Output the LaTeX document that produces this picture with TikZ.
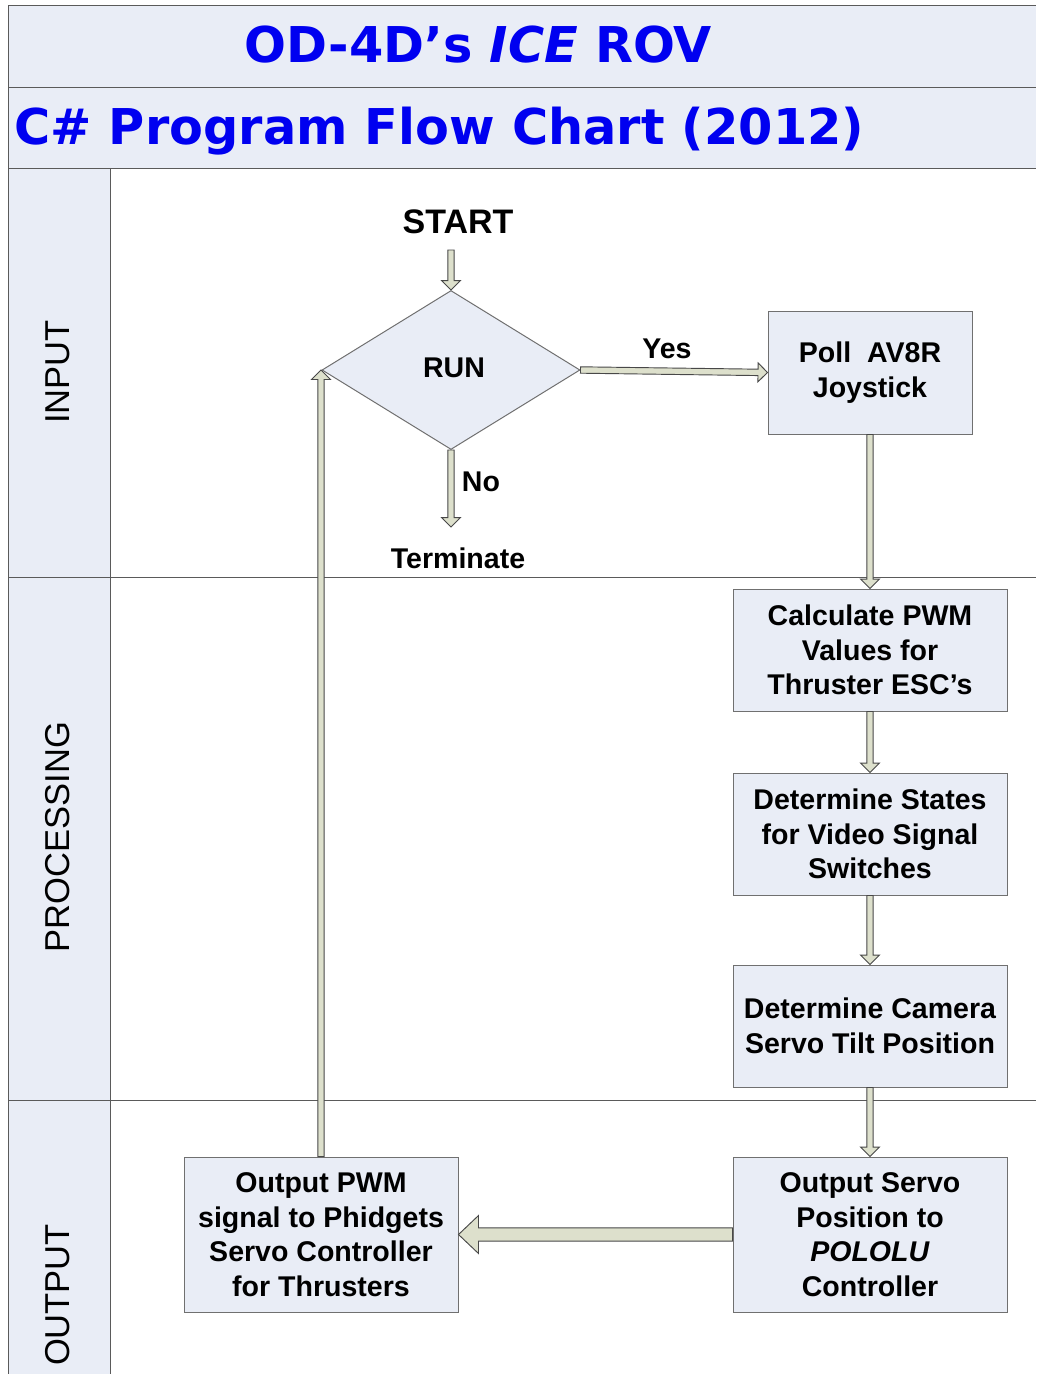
\documentclass[tikz,border=0pt]{standalone}
\usepackage{fontspec}
\setmainfont{Liberation Sans}
\newfontfamily\titlefont{DejaVu Sans}
\usetikzlibrary{calc,shapes.geometric}
\definecolor{paleblue}{HTML}{E9EDF6}
\definecolor{titleblue}{HTML}{0000F0}
\definecolor{arrowfill}{HTML}{DDE0CC}
\definecolor{arrowline}{HTML}{484848}
\definecolor{frameline}{HTML}{5A5A5A}
\definecolor{boxline}{HTML}{707070}
\tikzset{
  shafthalf/.store in=\shafthalf,
  headhalf/.store in=\headhalf,
  headlen/.store in=\headlen,
  shafthalf=2.4pt, headhalf=7.1pt, headlen=7.1pt,
  blockarrow/.style={draw=arrowline, fill=arrowfill, line width=0.7pt, line join=miter,
    to path={let \p1=($(\tikztotarget)!\headlen!(\tikztostart)$) in
      ($(\tikztostart)!\shafthalf!90:(\tikztotarget)$) --
      ($(\p1)!\shafthalf!90:(\tikztotarget)$) --
      ($(\p1)!\headhalf!90:(\tikztotarget)$) --
      (\tikztotarget) --
      ($(\p1)!\headhalf!-90:(\tikztotarget)$) --
      ($(\p1)!\shafthalf!-90:(\tikztotarget)$) --
      ($(\tikztostart)!\shafthalf!-90:(\tikztotarget)$) -- cycle}},
  bigarrow/.style={blockarrow, shafthalf=5pt, headhalf=14.25pt, headlen=15pt},
  bodytext/.style={font=\bfseries\fontsize{21.4}{25.9}\selectfont},
  procbox/.style={draw=boxline, fill=paleblue, line width=0.75pt, align=center,
    inner sep=0pt, minimum width=205.5pt, minimum height=91.5pt, bodytext},
  lanelabel/.style={rotate=90, font=\fontsize{25.9}{30}\selectfont, inner sep=0pt},
  titletext/.style={text=titleblue, font=\titlefont\bfseries\fontsize{37}{44}\selectfont, inner sep=0pt},
  frame/.style={draw=frameline, line width=0.75pt},
}
\begin{document}
\begin{tikzpicture}[x=0.75pt,y=-0.75pt]
\useasboundingbox (0,0) rectangle (1036,1374);
% backgrounds
\fill[paleblue] (8,5) rectangle (1036,168);
\fill[paleblue] (8,168) rectangle (110,1374);
% frame lines
\draw[frame] (8,5) -- (1036,5);
\draw[frame] (8,87) -- (1036,87);
\draw[frame] (8,168) -- (1036,168);
\draw[frame] (8,577) -- (1036,577);
\draw[frame] (8,1100) -- (1036,1100);
\draw[frame] (8,5) -- (8,1374);
\draw[frame] (110,168) -- (110,1374);
% titles
\node[titletext, anchor=base] (title1) at (478.5,62) {OD-4D’s \textit{ICE} ROV};
\node[titletext, anchor=base west] (title2) at (14,144) {C\# Program Flow Chart (2012)};
% lane labels
\node[lanelabel] (laneinput) at (58,372) {INPUT};
\node[lanelabel] (laneproc) at (58,837) {PROCESSING};
\node[lanelabel] (laneout) at (58,1295) {OUTPUT};
% flow
\node[font=\bfseries\fontsize{25.5}{30}\selectfont, inner sep=0pt, anchor=base] (start) at (458,233) {START};
\coordinate (startpt) at (451,250);
\node[diamond, draw=boxline, fill=paleblue, line width=0.75pt, inner sep=0pt,
  minimum width=193.5pt, minimum height=119.25pt, bodytext] (run) at (451,370) {};
\node[bodytext, inner sep=0pt] (runlabel) at (454,367.5) {RUN};
\node[procbox, minimum width=153pt, minimum height=92.25pt] (poll) at (870,372.5) {Poll\ \ AV8R\\Joystick};
\node[bodytext, inner sep=0pt] (yes) at (667,349) {Yes};
\coordinate (noend) at (451,527);
\node[bodytext, inner sep=0pt] (no) at (481,482) {No};
\node[bodytext, inner sep=0pt] (term) at (458,558) {Terminate};
\node[procbox] (calcpwm) at (870,650) {Calculate PWM\\Values for\\Thruster ESC’s};
\node[procbox] (states) at (870,834) {Determine States\\for Video Signal\\Switches};
\node[procbox] (camera) at (870,1026) {Determine Camera\\Servo Tilt Position};
\node[procbox, minimum height=116.25pt] (servo) at (870,1234.5) {Output Servo\\Position to\\\textit{POLOLU}\\Controller};
\node[procbox, minimum height=116.25pt] (pwm) at (321,1234.5) {Output PWM\\signal to Phidgets\\Servo Controller\\for Thrusters};
\coordinate (loopend) at (pwm.north |- run.west);
% connectors
\draw[blockarrow] (startpt) to (run.north);
\draw[blockarrow] (run.east) to (poll.west);
\draw[blockarrow] (run.south) to (noend);
\draw[blockarrow] (poll.south) to (calcpwm.north);
\draw[blockarrow] (calcpwm.south) to (states.north);
\draw[blockarrow] (states.south) to (camera.north);
\draw[blockarrow] (camera.south) to (servo.north);
\draw[bigarrow] (servo.west) to (pwm.east);
\draw[blockarrow] (pwm.north) to (loopend);
\end{tikzpicture}
\end{document}
